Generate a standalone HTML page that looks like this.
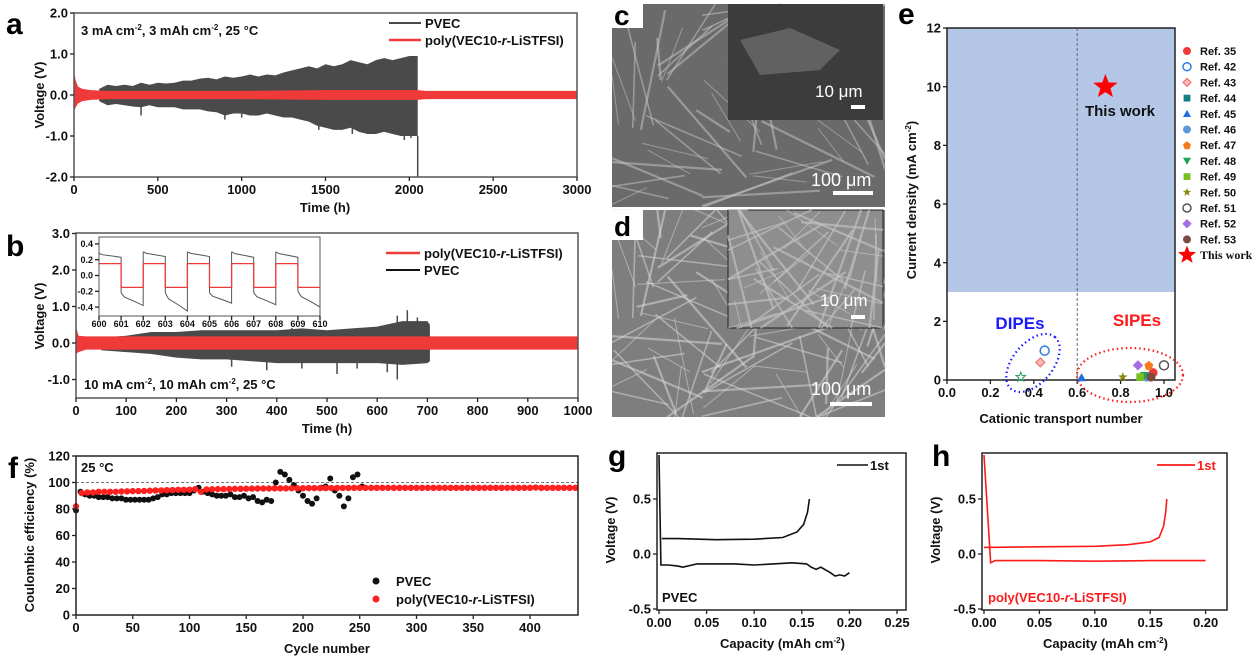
<!DOCTYPE html>
<html><head><meta charset="utf-8">
<style>
html,body{margin:0;padding:0;background:#fff;}
svg{display:block;font-family:"Liberation Sans",Arial,sans-serif;font-weight:bold;}
</style></head>
<body>
<svg id="fig" width="1258" height="660" viewBox="0 0 1258 660" xmlns="http://www.w3.org/2000/svg">
<rect width="1258" height="660" fill="#fff"/>
<text x="6" y="34" font-size="30">a</text>
<text x="6" y="256" font-size="30">b</text>
<text x="898" y="24" font-size="30">e</text>
<text x="8" y="478" font-size="30">f</text>
<text x="608" y="466" font-size="30">g</text>
<text x="932" y="466" font-size="30">h</text>

<g id="sem">
<rect x="612" y="4" width="273" height="203" fill="#6a6a6a"/>
<rect x="612" y="210" width="273" height="207" fill="#7e7e7e"/>
<g id="fibersC"></g><g id="fibersD"></g>
<rect x="728" y="4" width="155" height="116" fill="#3c3c3c"/>
<path d="M740 40 L790 28 L840 50 L820 70 L760 75 Z" fill="#707070" opacity="0.7"/>
<rect x="728" y="210" width="155" height="118" fill="#8e8e8e" stroke="#222" stroke-width="1"/>
<g id="fibersDi"></g>
<rect x="612" y="0" width="31" height="28" fill="#fff"/>
<text x="614" y="25" font-size="28">c</text>
<rect x="612" y="210" width="31" height="30" fill="#fff"/>
<text x="614" y="236" font-size="28">d</text>
<text x="815" y="97" font-size="17" fill="#fff" font-weight="normal">10 μm</text>
<rect x="851" y="105" width="14" height="4" fill="#fff"/>
<text x="811" y="186" font-size="18" fill="#fff" font-weight="normal">100 μm</text>
<rect x="833" y="191" width="40" height="4" fill="#fff"/>
<text x="820" y="306" font-size="17" fill="#fff" font-weight="normal">10 μm</text>
<rect x="851" y="315" width="14" height="4" fill="#fff"/>
<text x="811" y="395" font-size="18" fill="#fff" font-weight="normal">100 μm</text>
<rect x="830" y="402" width="42" height="4" fill="#fff"/>
</g>

<g id="pa"></g><g id="pb"></g><g id="pe"></g><g id="pf"></g><g id="pg"></g><g id="ph"></g>
</svg>
<script>
// ---------- DATA ----------
const aPvecT = [150,200,250,300,350,400,450,500,550,600,650,700,750,800,850,900,950,1000,1050,1100,1150,1200,1250,1300,1350,1400,1450,1500,1550,1600,1650,1700,1750,1800,1850,1900,1950,2000,2050];
const aPvecUp = [0.15,0.25,0.22,0.25,0.22,0.3,0.25,0.3,0.28,0.3,0.35,0.35,0.4,0.42,0.38,0.45,0.42,0.45,0.5,0.45,0.5,0.48,0.55,0.6,0.65,0.7,0.65,0.75,0.7,0.75,0.85,0.8,0.75,0.85,0.9,0.85,0.9,0.95,0.95];
const aPvecLo = [-0.15,-0.25,-0.22,-0.25,-0.28,-0.3,-0.25,-0.3,-0.3,-0.3,-0.35,-0.35,-0.35,-0.4,-0.42,-0.5,-0.45,-0.45,-0.5,-0.5,-0.45,-0.5,-0.55,-0.55,-0.6,-0.65,-0.75,-0.8,-0.85,-0.85,-0.8,-0.9,-0.95,-0.95,-0.9,-0.95,-1.0,-1.0,-1.0];
const aSpikeT = [400,900,1000,1460,1660,1970,2010];
const aSpikeV = [-0.5,-0.6,-0.55,-0.85,-0.95,-1.1,-1.05];
const aRedT = [0,10,25,50,100,200,500,1000,1500,2050,2100,2500,3000];
const aRedUp = [0.6,0.35,0.2,0.15,0.12,0.1,0.1,0.1,0.12,0.12,0.1,0.1,0.1];
const aRedLo = [-0.4,-0.3,-0.2,-0.15,-0.12,-0.1,-0.1,-0.1,-0.12,-0.12,-0.1,-0.1,-0.1];
const aXTicks = [0,500,1000,1500,2000,2500,3000];
const aYTicks = [2,1,0,-1,-2];
const bPvecT = [50,100,150,200,250,300,350,400,450,500,550,600,650,700,705];
const bPvecUp = [0.15,0.2,0.3,0.3,0.35,0.35,0.35,0.35,0.4,0.35,0.4,0.45,0.6,0.6,0.5];
const bPvecLo = [-0.2,-0.25,-0.3,-0.4,-0.45,-0.45,-0.5,-0.55,-0.55,-0.55,-0.55,-0.55,-0.6,-0.55,-0.5];
const bSpikeT = [380,450,520,620,640,430,640,660,680,310,560];
const bSpikeV = [-0.75,-0.7,-0.85,-0.8,-1.0,0.5,0.75,0.9,0.7,-0.65,-0.7];
const bRedT = [0,5,20,1000];
const bRedUp = [0.45,0.2,0.18,0.18];
const bRedLo = [-0.3,-0.25,-0.18,-0.18];
const bXTicks = [0,100,200,300,400,500,600,700,800,900,1000];
const bYTicks = [3,2,1,0,-1];
const insHours = [600,601,602,603,604,605,606,607,608,609];
const insRed = [0.15,-0.15,0.15,-0.15,0.15,-0.15,0.15,-0.15,0.15,-0.15];
const insBlkStart = [0.28,-0.22,0.3,-0.22,0.3,-0.22,0.3,-0.22,0.3,-0.2];
const insBlkEnd = [0.23,-0.38,0.24,-0.45,0.24,-0.35,0.23,-0.37,0.23,-0.4];
const insXTicks = [600,601,602,603,604,605,606,607,608,609,610];
const insYTicks = [0.4,0.2,0,-0.2,-0.4];
const eRefs = ['Ref. 35','Ref. 42','Ref. 43','Ref. 44','Ref. 45','Ref. 46','Ref. 47','Ref. 48','Ref. 49','Ref. 50','Ref. 51','Ref. 52','Ref. 53','This work'];
const eX = [0.95,0.45,0.43,0.93,0.62,0.92,0.93,0.91,0.89,0.81,1.0,0.88,0.94,0.73];
const eY = [0.25,1.0,0.6,0.1,0.08,0.1,0.5,0.15,0.1,0.1,0.5,0.5,0.1,10];
const eX2 = [0.34];
const eY2 = [0.1];
const eXTicks = [0,0.2,0.4,0.6,0.8,1.0];
const eYTicks = [0,2,4,6,8,10,12];
const fPvecCycle = [0,4,8,12,16,20,24,28,32,36,40,44,48,52,56,60,64,68,72,76,80,84,88,92,96,100,104,108,112,116,120,124,128,132,136,140,144,148,152,156,160,164,168,172,176,180,184,188,192,196,200,204,208,212,216,220,224,228,232,236,240,244,248,252];
const fPvecCE = [79,93,91,90,90,89,89,89,88,88,88,87,87,87,87,87,87,88,89,91,91,92,92,92,92,92,94,96,93,92,91,90,90,90,91,89,89,90,88,89,86,85,87,86,100,108,106,102,98,94,90,86,84,88,96,97,103,94,90,82,88,104,106,97];
const fRedCycle = [0,5,10,15,20,25,30,35,40,45,50,55,60,65,70,75,80,85,90,95,100,105,110,115,120,125,130,135,140,145,150,155,160,165,170,175,180,185,190,195,200,205,210,215,220,225,230,235,240,245,250,255,260,265,270,275,280,285,290,295,300,305,310,315,320,325,330,335,340,345,350,355,360,365,370,375,380,385,390,395,400,405,410,415,420,425,430,435,440];
const fRedCE = [82,92,92.5,92.5,93,93,93,93,93.2,93.3,93.5,93.5,93.6,93.8,94,94,94.2,94.3,94.5,94.5,94.6,95,93,94.8,94.9,95,95,95.1,95.2,95.2,95.3,95.4,95.5,95.5,95.5,95.6,95.6,95.6,95.7,95.7,95.7,95.8,95.8,95.8,95.8,95.8,95.9,95.9,95.9,96,96,96,96,96,96,96,96,96,96,96,96,96,96,96,96,96,96,96,96,96,96,96,96,96,96,96,96,96,96,96,96,96.2,96,96,96,96,96,96,96];
const fXTicks = [0,50,100,150,200,250,300,350,400];
const fYTicks = [0,20,40,60,80,100,120];
const gDisCap = [0,0.002,0.003,0.01,0.02,0.025,0.04,0.08,0.1,0.14,0.155,0.16,0.165,0.17,0.18,0.185,0.19,0.195,0.2];
const gDisV = [0.9,-0.1,-0.1,-0.1,-0.11,-0.12,-0.09,-0.09,-0.1,-0.08,-0.09,-0.12,-0.14,-0.12,-0.17,-0.2,-0.19,-0.2,-0.17];
const gChCap = [0.003,0.02,0.06,0.1,0.13,0.145,0.152,0.156,0.158];
const gChV = [0.14,0.14,0.13,0.135,0.15,0.2,0.27,0.38,0.5];
const gXTicks = [0,0.05,0.1,0.15,0.2,0.25];
const gYTicks = [0.5,0,-0.5];
const hDisCap = [0,0.006,0.01,0.05,0.1,0.15,0.2];
const hDisV = [0.9,-0.08,-0.06,-0.06,-0.065,-0.06,-0.06];
const hChCap = [0,0.05,0.1,0.13,0.15,0.158,0.162,0.164,0.165];
const hChV = [0.06,0.065,0.07,0.085,0.11,0.15,0.25,0.38,0.5];
const hXTicks = [0,0.05,0.1,0.15,0.2];
const hYTicks = [0.5,0,-0.5];

// ---------- helpers ----------
const NS='http://www.w3.org/2000/svg';
function mk(tag, parent, attrs){const e=document.createElementNS(NS,tag);for(const k in attrs)e.setAttribute(k,attrs[k]);parent.appendChild(e);return e;}
function txt(parent,x,y,s,size,anchor,fill){const t=mk('text',parent,{x:x,y:y,'font-size':size,'text-anchor':anchor||'start',fill:fill||'#111'});t.textContent=s;return t;}
function fmt1(v){return v.toFixed(1);}
function frame(g,x0,y0,x1,y1,col){return mk('rect',g,{x:x0,y:y0,width:x1-x0,height:y1-y0,fill:'none',stroke:col||'#222','stroke-width':1.5});}
function xTicks(g,ticks,sx,yb,lab,size,fmt){ticks.forEach(v=>{const l=mk('line',g,{x1:sx(v),x2:sx(v),y1:yb,y2:yb+4,stroke:'#222','stroke-width':1.3});


const t=txt(g,sx(v),yb+lab,fmt(v),size,'middle');

});}
function yTicks(g,ticks,sy,xl,size,fmt){ticks.forEach(v=>{const l=mk('line',g,{x1:xl-4,x2:xl,y1:sy(v),y2:sy(v),stroke:'#222','stroke-width':1.3});


const t=txt(g,xl-6,sy(v)+size*0.36,fmt(v),size,'end');

});}
function band(g,T,U,L,sx,sy,col){let d='M'+T.map((t,i)=>sx(t)+' '+sy(U[i])).join(' L')+' L'+T.slice().reverse().map((t,i)=>sx(t)+' '+sy(L[L.length-1-i])).join(' L')+' Z';return mk('path',g,{d:d,fill:col});}
function line(g,X,Y,sx,sy,col,w){return mk('path',g,{d:'M'+X.map((x,i)=>sx(x)+' '+sy(Y[i])).join(' L'),fill:'none',stroke:col,'stroke-width':w||1.5});}
function vtitle(g,x,y,s,size){const t=txt(g,x,y,s,size,'middle');t.setAttribute('transform','rotate(-90 '+x+' '+y+')');return t;}

function fibers(id,x0,y0,w,h,n,col,op){const g=document.getElementById(id);for(let i=0;i<n;i++){const a=(i*2.399)%6.283,cx=x0+((i*73)%w),cy=y0+((i*47)%h),L=20+(i*17)%50;
const f=mk('line',g,{x1:Math.max(x0,Math.min(x0+w,cx-Math.cos(a)*L)),y1:Math.max(y0,Math.min(y0+h,cy-Math.sin(a)*L)),x2:Math.max(x0,Math.min(x0+w,cx+Math.cos(a)*L)),y2:Math.max(y0,Math.min(y0+h,cy+Math.sin(a)*L)),stroke:col,'stroke-width':1+(i%3)*0.6,opacity:op});

}}
fibers('fibersC',612,4,273,203,55,'#c8c8c8',0.5);
fibers('fibersD',612,210,273,207,90,'#d6d6d6',0.55);
fibers('fibersDi',728,210,155,118,45,'#c4c4c4',0.65);

// ---------- panel a ----------
(function(){const g=document.getElementById('pa');


const sx=t=>74+t*(577-74)/3000, sy=v=>95-v*41;
const p=band(g,aPvecT,aPvecUp,aPvecLo,sx,sy,'#4a4a4a');


aSpikeT.forEach((t,i)=>{const s=mk('line',g,{x1:sx(t),x2:sx(t),y1:sy(0),y2:sy(aSpikeV[i]),stroke:'#4a4a4a','stroke-width':1.5});

});
const dl=mk('line',g,{x1:sx(2050),x2:sx(2050),y1:sy(-1),y2:sy(-2),stroke:'#4a4a4a','stroke-width':1.5});


const r=band(g,aRedT,aRedUp,aRedLo,sx,sy,'#f03a3a');


const fr=frame(g,74,13,577,177,'#555');


xTicks(g,aXTicks,sx,177,17,13,v=>String(v));
yTicks(g,aYTicks,sy,74,13,fmt1);
const xt=txt(g,325,212,'Time (h)',13,'middle');


const yt=vtitle(g,44,95,'Voltage (V)',13);


const an=txt(g,81,35,'',13);an.innerHTML='3 mA cm<tspan dy="-5" font-size="8">-2</tspan><tspan dy="5">, 3 mAh cm</tspan><tspan dy="-5" font-size="8">-2</tspan><tspan dy="5">, 25 °C</tspan>';


const l1=mk('line',g,{x1:389,x2:421,y1:23,y2:23,stroke:'#4a4a4a','stroke-width':2});


const t1=txt(g,425,28,'PVEC',13);


const l2=mk('line',g,{x1:389,x2:421,y1:40,y2:40,stroke:'#f03a3a','stroke-width':2.5});


const t2=txt(g,425,45,'',13);t2.innerHTML='poly(VEC10-<tspan font-style="italic">r</tspan>-LiSTFSI)';


})();

// ---------- panel b ----------
(function(){const g=document.getElementById('pb');


const sx=t=>76+t*(578-76)/1000, sy=v=>343-v*36.5;
const p=band(g,bPvecT,bPvecUp,bPvecLo,sx,sy,'#4a4a4a');


bSpikeT.forEach((t,i)=>{const s=mk('line',g,{x1:sx(t),x2:sx(t),y1:sy(0),y2:sy(bSpikeV[i]),stroke:'#4a4a4a','stroke-width':1.5});

});
const r=band(g,bRedT,bRedUp,bRedLo,sx,sy,'#f03a3a');


const fr=frame(g,76,233,578,398,'#555');


xTicks(g,bXTicks,sx,398,17,13,v=>String(v));
yTicks(g,bYTicks,sy,76,13,fmt1);
const xt=txt(g,327,433,'Time (h)',13,'middle');


const yt=vtitle(g,44,316,'Voltage (V)',13);


const an=txt(g,84,389,'',13);an.innerHTML='10 mA cm<tspan dy="-5" font-size="8">-2</tspan><tspan dy="5">, 10 mAh cm</tspan><tspan dy="-5" font-size="8">-2</tspan><tspan dy="5">, 25 °C</tspan>';


const l1=mk('line',g,{x1:386,x2:420,y1:253,y2:253,stroke:'#f03a3a','stroke-width':2.5});


const t1=txt(g,424,258,'',13);t1.innerHTML='poly(VEC10-<tspan font-style="italic">r</tspan>-LiSTFSI)';


const l2=mk('line',g,{x1:386,x2:420,y1:270,y2:270,stroke:'#111','stroke-width':2});


const t2=txt(g,424,275,'PVEC',13);


const ig=mk('g',g,{});


const bg=mk('rect',ig,{x:79,y:236,width:241,height:92,fill:'#fff'});


const ix=t=>99+(t-600)*22.1, iy=v=>275.5-v*79;
insHours.forEach((h,i)=>{
 const bl=mk('path',ig,{d:'M'+ix(h)+' '+iy(insBlkStart[i])+' L'+ix(h+0.15)+' '+iy((insBlkStart[i]*2+insBlkEnd[i])/3)+' L'+ix(h+0.6)+' '+iy((insBlkStart[i]+insBlkEnd[i]*2)/3)+' L'+ix(h+1)+' '+iy(insBlkEnd[i])+(i<insHours.length-1?' L'+ix(h+1)+' '+iy(insBlkStart[i+1]):''),fill:'none',stroke:'#555','stroke-width':1});
 
 
 const rl=mk('path',ig,{d:'M'+ix(h)+' '+iy(insRed[i])+' L'+ix(h+1)+' '+iy(insRed[i])+(i<insHours.length-1?' L'+ix(h+1)+' '+iy(insRed[i+1]):''),fill:'none',stroke:'#f03a3a','stroke-width':1.3});
 
 });
const ifr=frame(ig,99,237,320,316,'#555');ifr.setAttribute('stroke-width',1);


xTicks(ig,insXTicks,ix,316,11,9,v=>String(v));
yTicks(ig,insYTicks,iy,99,9,fmt1);
})();

// ---------- panel e ----------
(function(){const g=document.getElementById('pe');


const sx=t=>947+t*217, sy=v=>380-v*29.33;
const bf=mk('rect',g,{x:947,y:sy(12),width:228,height:sy(3)-sy(12),fill:'#b4c7e7'});


const dv=mk('line',g,{x1:sx(0.6),x2:sx(0.6),y1:28,y2:380,stroke:'#666','stroke-width':1,'stroke-dasharray':'3,2'});


const fr=frame(g,947,28,1175,380,'#222');


xTicks(g,eXTicks,sx,380,17,13,fmt1);
yTicks(g,eYTicks,sy,947,13,v=>String(v));
const xt=txt(g,1061,423,'Cationic transport number',13,'middle');


const yt=vtitle(g,916,200,'',13);yt.innerHTML='Current density (mA cm<tspan dy="-5" font-size="8">-2</tspan><tspan dy="5">)</tspan>';


const e1=mk('ellipse',g,{cx:1033,cy:363,rx:34,ry:20,transform:'rotate(-50 1033 363)',fill:'none',stroke:'#1a1aff','stroke-width':2.2,'stroke-dasharray':'1.5,3'});


const e2=mk('ellipse',g,{cx:1130,cy:375,rx:53,ry:27,fill:'none',stroke:'#ff1a1a','stroke-width':2.2,'stroke-dasharray':'1.5,3'});


const d1=txt(g,1020,329,'DIPEs',17,'middle','#1a1aff');


const d2=txt(g,1137,326,'SIPEs',17,'middle','#ff1a1a');


const tw=txt(g,1120,116,'This work',15,'middle','#111');


const cols=['#f03a3a','#2a7de1','#f06060','#128080','#1f6fe0','#5a9ad8','#f47a20','#20a060','#7ac020','#8a8a10','#555','#a66de0','#7a4a40','#ff0000'];
function star(cx,cy,r){let d='';for(let k=0;k<10;k++){const a=-Math.PI/2+k*Math.PI/5,rr=k%2?r*0.42:r;d+=(k?'L':'M')+(cx+rr*Math.cos(a)).toFixed(1)+' '+(cy+rr*Math.sin(a)).toFixed(1);}return d+'Z';}
function marker(par,i,cx,cy,r){const c=cols[i];
 if(i===13) return mk('path',par,{d:star(cx,cy,r*1.6),fill:c});
 if(i===9) return mk('path',par,{d:star(cx,cy,r*1.1),fill:c});
 if(i===4) return mk('path',par,{d:'M'+cx+' '+(cy-r)+' L'+(cx+r)+' '+(cy+r*0.8)+' L'+(cx-r)+' '+(cy+r*0.8)+'Z',fill:c});
 if(i===7) return mk('path',par,{d:'M'+(cx-r)+' '+(cy-r*0.8)+' L'+(cx+r)+' '+(cy-r*0.8)+' L'+cx+' '+(cy+r)+'Z',fill:c});
 if(i===2||i===11) return mk('path',par,{d:'M'+cx+' '+(cy-r)+' L'+(cx+r)+' '+cy+' L'+cx+' '+(cy+r)+' L'+(cx-r)+' '+cy+'Z',fill:i===2?'#fbb':c,stroke:c,'stroke-width':1});
 if(i===3||i===8) return mk('rect',par,{x:cx-r*0.85,y:cy-r*0.85,width:r*1.7,height:r*1.7,fill:c});
 if(i===6) return mk('path',par,{d:'M'+cx+' '+(cy-r)+' L'+(cx+r)+' '+(cy-0.2*r)+' L'+(cx+0.6*r)+' '+(cy+r)+' L'+(cx-0.6*r)+' '+(cy+r)+' L'+(cx-r)+' '+(cy-0.2*r)+'Z',fill:c});
 if(i===1||i===10) return mk('circle',par,{cx:cx,cy:cy,r:r,fill:'#fff',stroke:c,'stroke-width':1.5});
 return mk('circle',par,{cx:cx,cy:cy,r:r,fill:c});}
eX.forEach((x,i)=>{const m=marker(g,i,sx(x),sy(eY[i]),i===13?8:4.5);
 
 });
eX2.forEach((x,i)=>{const m=mk('path',g,{d:star(sx(x),sy(eY2[i]),5),fill:'none',stroke:'#20a060','stroke-width':1});
 
 });
eRefs.forEach((s,i)=>{const yy=51+i*15.7;
 const m=marker(g,i,1187,yy,i===13?6:4);
 
 
 const t=txt(g,1200,yy+4,s,i===13?12:11,'start','#111');if(i===13){t.setAttribute('font-family','Liberation Serif, serif');}
 
 });
})();

// ---------- panel f ----------
(function(){const g=document.getElementById('pf');


const sx=c=>76+c*1.135, sy=v=>615-v*(615-456)/120;
const dl=mk('line',g,{x1:76,x2:578,y1:sy(100),y2:sy(100),stroke:'#777','stroke-width':1,'stroke-dasharray':'3,2'});


fPvecCycle.forEach((c,i)=>{const d=mk('circle',g,{cx:sx(c),cy:sy(fPvecCE[i]),r:3,fill:'#111'});
 
 });
fRedCycle.forEach((c,i)=>{const d=mk('circle',g,{cx:sx(c),cy:sy(fRedCE[i]),r:3.2,fill:'#ff2020'});
 
 });
const fr=frame(g,76,456,578,615,'#222');


xTicks(g,fXTicks,sx,615,17,13,v=>String(v));
yTicks(g,fYTicks,sy,76,13,v=>String(v));
const xt=txt(g,327,653,'Cycle number',13,'middle');


const yt=vtitle(g,34,535,'Coulombic efficiency (%)',13);


const an=txt(g,81,472,'25 °C',13);


const m1=mk('circle',g,{cx:376,cy:581,r:3.5,fill:'#111'});


const t1=txt(g,396,586,'PVEC',13);


const m2=mk('circle',g,{cx:376,cy:599,r:3.5,fill:'#ff2020'});


const t2=txt(g,396,604,'',13);t2.innerHTML='poly(VEC10-<tspan font-style="italic">r</tspan>-LiSTFSI)';


})();

// ---------- panels g, h ----------
function vc(id,x0,x1,sxk,dc,dv,cc,cv,xt,col,name,fmtx){const g=document.getElementById(id);


const sx=c=>x0+c*sxk, sy=v=>554-v*110;
const l1=line(g,dc,dv,sx,sy,col,1.6);


const l2=line(g,cc,cv,sx,sy,col,1.6);


const fr=frame(g,x0-2,453,x1,610,'#222');


xTicks(g,xt,sx,610,17,13,fmtx);
yTicks(g,[0.5,0,-0.5],sy,x0-2,13,fmt1);
const xtt=txt(g,(x0+x1)/2,648,'',13,'middle');xtt.innerHTML='Capacity (mAh cm<tspan dy="-5" font-size="8">-2</tspan><tspan dy="5">)</tspan>';


const yt=vtitle(g,x0-44,530,'Voltage (V)',13);


return {g:g,sx:sx};}
(function(){const r=vc('pg',659,906,952,gDisCap,gDisV,gChCap,gChV,gXTicks,'#111','panel-g-chart',v=>v.toFixed(2));
const l=mk('line',r.g,{x1:837,x2:868,y1:465,y2:465,stroke:'#111','stroke-width':1.6});


const t=txt(r.g,870,470,'1st',13);


const n=txt(r.g,662,602,'PVEC',13);

})();
(function(){const r=vc('ph',984,1227,1108,hDisCap,hDisV,hChCap,hChV,hXTicks,'#ff1a1a','panel-h-chart',v=>v.toFixed(2));
const l=mk('line',r.g,{x1:1157,x2:1195,y1:465,y2:465,stroke:'#ff1a1a','stroke-width':1.8});


const t=txt(r.g,1197,470,'1st',13,'start','#ff1a1a');


const n=txt(r.g,988,602,'',13,'start','#ff1a1a');n.innerHTML='poly(VEC10-<tspan font-style="italic">r</tspan>-LiSTFSI)';

})();
</script>
</body></html>
